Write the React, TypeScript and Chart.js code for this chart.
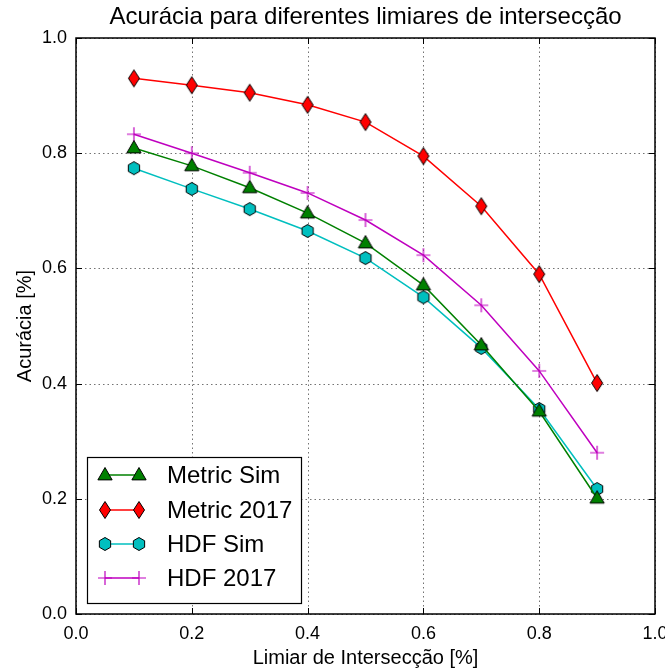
import { useEffect, useRef } from 'react';
import { Chart, registerables } from 'chart.js';

Chart.register(...registerables);

const thresholds = [0.1, 0.2, 0.3, 0.4, 0.5, 0.6, 0.7, 0.8, 0.9];
const metricSim = [0.809, 0.778, 0.740, 0.696, 0.644, 0.571, 0.467, 0.352, 0.201];
const metric2017 = [0.930, 0.918, 0.905, 0.884, 0.854, 0.795, 0.708, 0.590, 0.401];
const hdfSim = [0.774, 0.738, 0.703, 0.665, 0.618, 0.550, 0.462, 0.356, 0.217];
const hdf2017 = [0.833, 0.800, 0.766, 0.731, 0.684, 0.623, 0.536, 0.422, 0.280];
const axisTicks = [0, 0.2, 0.4, 0.6, 0.8, 1.0];

const seriesNames = ['Metric Sim', 'Metric 2017', 'HDF Sim', 'HDF 2017'];
const seriesColors = ['#008000', '#FF0000', '#00BFBF', '#BF00BF'];
const seriesMarkers = ['triangle', 'thinDiamond', 'hexagon', 'plus'];
const seriesValues = [metricSim, metric2017, hdfSim, hdf2017];

const FONT = '"Liberation Sans", Arial, Helvetica, sans-serif';

function drawMarker(ctx: CanvasRenderingContext2D, kind: string, x: number, y: number, color: string) {
  ctx.save();
  ctx.lineWidth = 1;
  ctx.strokeStyle = '#000';
  ctx.fillStyle = color;
  ctx.beginPath();
  if (kind === 'triangle') {
    const r = 7.5;
    ctx.moveTo(x, y - r);
    ctx.lineTo(x + r * 0.95, y + r * 0.65);
    ctx.lineTo(x - r * 0.95, y + r * 0.65);
    ctx.closePath();
    ctx.fill();
    ctx.stroke();
  } else if (kind === 'thinDiamond') {
    ctx.moveTo(x, y - 8.5);
    ctx.lineTo(x + 5.5, y);
    ctx.lineTo(x, y + 8.5);
    ctx.lineTo(x - 5.5, y);
    ctx.closePath();
    ctx.fill();
    ctx.stroke();
  } else if (kind === 'hexagon') {
    const r = 6.5;
    for (let i = 0; i < 6; i++) {
      const a = Math.PI / 2 + (i * Math.PI) / 3;
      const px = x + r * Math.cos(a);
      const py = y + r * Math.sin(a);
      if (i === 0) ctx.moveTo(px, py);
      else ctx.lineTo(px, py);
    }
    ctx.closePath();
    ctx.fill();
    ctx.stroke();
  } else {
    ctx.strokeStyle = color;
    ctx.lineWidth = 1.2;
    const r = 7;
    ctx.moveTo(x - r, y);
    ctx.lineTo(x + r, y);
    ctx.moveTo(x, y - r);
    ctx.lineTo(x, y + r);
    ctx.stroke();
  }
  ctx.restore();
}

function makeMarkerCanvas(kind: string, color: string) {
  const c = document.createElement('canvas');
  c.width = 22;
  c.height = 22;
  const ctx = c.getContext('2d')!;
  drawMarker(ctx, kind, 11, 11, color);
  return c;
}

const framePlugin = {
  id: 'framePlugin',
  beforeDatasetsDraw(chart: any) {
    const { ctx, chartArea: a, scales } = chart;
    ctx.save();
    ctx.strokeStyle = 'rgba(0,0,0,0.55)';
    ctx.lineWidth = 1;
    ctx.setLineDash([1.5, 3]);
    for (const t of axisTicks) {
      const px = Math.round(scales.x.getPixelForValue(t)) + 0.5;
      const py = Math.round(scales.y.getPixelForValue(t)) + 0.5;
      ctx.beginPath();
      ctx.moveTo(px, a.top);
      ctx.lineTo(px, a.bottom);
      ctx.stroke();
      ctx.beginPath();
      ctx.moveTo(a.left, py);
      ctx.lineTo(a.right, py);
      ctx.stroke();
    }
    ctx.restore();
  },
  afterDraw(chart: any) {
    const { ctx, chartArea: a, scales } = chart;
    ctx.save();
    ctx.strokeStyle = '#000';
    ctx.lineWidth = 1;
    const tl = 6;
    for (const t of axisTicks) {
      const px = Math.round(scales.x.getPixelForValue(t)) + 0.5;
      const py = Math.round(scales.y.getPixelForValue(t)) + 0.5;
      ctx.beginPath();
      ctx.moveTo(px, a.bottom);
      ctx.lineTo(px, a.bottom - tl);
      ctx.moveTo(px, a.top);
      ctx.lineTo(px, a.top + tl);
      ctx.moveTo(a.left, py);
      ctx.lineTo(a.left + tl, py);
      ctx.moveTo(a.right, py);
      ctx.lineTo(a.right - tl, py);
      ctx.stroke();
    }
    ctx.lineWidth = 1.5;
    ctx.strokeRect(a.left, a.top, a.right - a.left, a.bottom - a.top);

    ctx.fillStyle = '#000';
    ctx.textAlign = 'center';
    ctx.textBaseline = 'middle';
    ctx.font = `24px ${FONT}`;
    ctx.fillText('Acurácia para diferentes limiares de intersecção', (a.left + a.right) / 2, 17);

    ctx.font = `20px ${FONT}`;
    ctx.fillText('Limiar de Intersecção [%]', (a.left + a.right) / 2, 658);
    ctx.save();
    ctx.translate(25, (a.top + a.bottom) / 2);
    ctx.rotate(-Math.PI / 2);
    ctx.fillText('Acurácia [%]', 0, 0);
    ctx.restore();

    const bx = 87, by = 457, bw = 214, bh = 146;
    ctx.fillStyle = '#fff';
    ctx.fillRect(bx, by, bw, bh);
    ctx.strokeStyle = '#000';
    ctx.lineWidth = 1.2;
    ctx.strokeRect(bx + 0.5, by + 0.5, bw, bh);
    const rows = [475, 510, 544, 578];
    ctx.font = `24px ${FONT}`;
    ctx.textAlign = 'left';
    for (let i = 0; i < 4; i++) {
      const y = rows[i];
      ctx.strokeStyle = seriesColors[i];
      ctx.lineWidth = 1.5;
      ctx.beginPath();
      ctx.moveTo(105, y);
      ctx.lineTo(139, y);
      ctx.stroke();
      drawMarker(ctx, seriesMarkers[i], 105, y, seriesColors[i]);
      drawMarker(ctx, seriesMarkers[i], 139, y, seriesColors[i]);
      ctx.fillStyle = '#000';
      ctx.fillText(seriesNames[i], 167, y + 1);
    }
    ctx.restore();
  },
};

export default function App() {
  const ref = useRef<HTMLCanvasElement>(null);
  useEffect(() => {
    document.body.style.margin = '0';
    const canvas = ref.current!;
    const datasets = seriesNames.map((name, i) => {
      const marker = makeMarkerCanvas(seriesMarkers[i], seriesColors[i]);
      return {
        label: name,
        data: thresholds.map((t, j) => ({ x: t, y: seriesValues[i][j] })),
        borderColor: seriesColors[i],
        backgroundColor: seriesColors[i],
        borderWidth: 1.5,
        pointStyle: marker as any,
        pointRadius: 7,
        tension: 0,
      };
    });
    const chart = new Chart(canvas, {
      type: 'line',
      data: { datasets },
      options: {
        responsive: false,
        animation: false,
        layout: { padding: { top: 38, right: 10, left: 0, bottom: 0 } },
        plugins: { legend: { display: false }, title: { display: false }, tooltip: { enabled: false } },
        scales: {
          x: {
            type: 'linear',
            min: 0,
            max: 1,
            grid: { display: false, drawTicks: false },
            border: { display: false },
            afterFit: (s: any) => { s.height = 54; s.paddingLeft = 0; s.paddingRight = 0; },
            ticks: {
              stepSize: 0.2,
              padding: 9,
              color: '#000',
              font: { family: FONT, size: 18 },
              callback: (v: any) => Number(v).toFixed(1),
            },
          },
          y: {
            type: 'linear',
            min: 0,
            max: 1,
            grid: { display: false, drawTicks: false },
            border: { display: false },
            afterFit: (s: any) => { s.width = 76; s.paddingTop = 0; s.paddingBottom = 0; },
            ticks: {
              stepSize: 0.2,
              padding: 9,
              color: '#000',
              font: { family: FONT, size: 18 },
              callback: (v: any) => Number(v).toFixed(1),
            },
          },
        },
      },
      plugins: [framePlugin],
    });
    return () => chart.destroy();
  }, []);
  return <canvas ref={ref} width={665} height={668} style={{ display: 'block' }} />;
}
